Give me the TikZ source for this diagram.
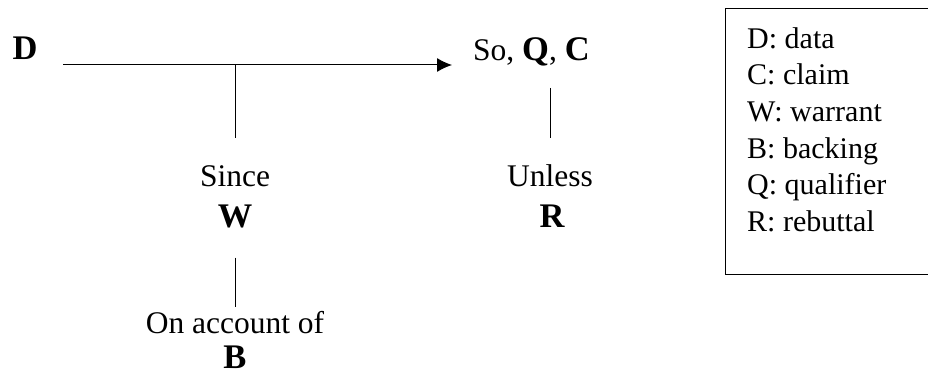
\documentclass[tikz,border=0pt]{standalone}
\usepackage{fontspec}
\setmainfont{Liberation Serif}
\usepackage{tikz}
\usetikzlibrary{arrows.meta,positioning}
\newcommand{\bsym}[1]{{\fontsize{34.5}{40}\selectfont\bfseries #1}}
\tikzset{
  lbl/.style = {inner sep=0pt, font=\fontsize{31.5}{36}\selectfont},
  key/.style = {lbl, font=\fontsize{34.5}{40}\selectfont\bfseries},
  legend/.style = {inner sep=0pt, align=left, font=\fontsize{30}{36.7}\selectfont},
  link/.style = {draw, line width=1pt},
  arr/.style = {link, -{Latex[length=15pt,width=14pt]}},
  frame/.style = {draw, line width=1pt}
}

\begin{document}
\begin{tikzpicture}[x=1pt,y=-1pt]
	\useasboundingbox (0,0) rectangle (928,382);
	\node [key, anchor=base] (D) at (25,60) {D};
	\node [lbl, anchor=base west] (claim) at (473,61) {So, \bsym{Q}, \bsym{C}};
	\node [lbl, anchor=base] (since) at (235,186) {Since};
	\node [key, anchor=base] (W) at (235,227) {W};
	\node [lbl, anchor=base] (account) at (235,333) {On account of};
	\node [key, anchor=base] (B) at (235,368) {B};
	\node [lbl, anchor=base] (unless) at (550,186) {Unless};
	\node [key, anchor=base] (R) at (552,227) {R};
	\coordinate (dstart) at (63,65);
	\coordinate (cend) at (452,65);
	\coordinate (tee) at (235,65);
	\draw [arr] (dstart) -- (cend);
	\draw [link] (tee) -- ([yshift=27pt]since.north);
	\draw [link] ([yshift=-30pt]W.south) -- ([yshift=4pt]account.north);
	\draw [link] (claim.south -| unless.north) ++(0,21) -- ++(0,50);
	\node [legend, anchor=north west] (keys) at (747,27) {D: data\\C: claim\\W: warrant\\B: backing\\Q: qualifier\\R: rebuttal};
	\draw [frame] (928,9) -| (725,274) -- (928,274);
\end{tikzpicture}
\end{document}
